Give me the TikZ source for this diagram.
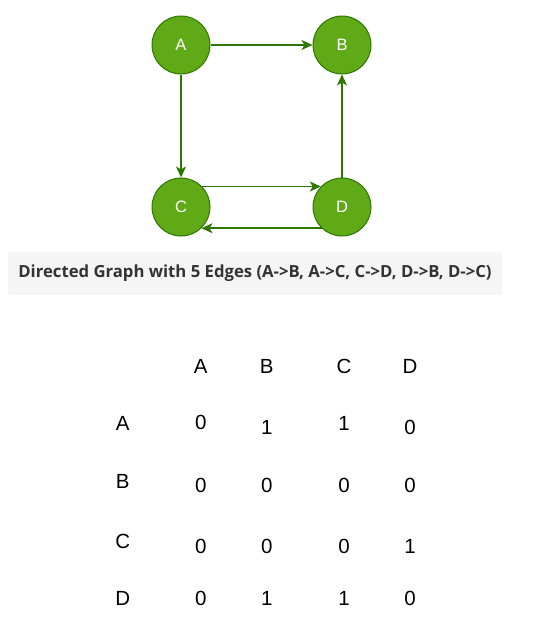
\documentclass[tikz,border=0pt]{standalone}
\usepackage{fontspec}
\setmainfont{Liberation Sans}
\newfontfamily\capfont{Open Sans}
\usetikzlibrary{arrows.meta}
\definecolor{vfill}{HTML}{60A917}
\definecolor{vline}{HTML}{2D7600}
\definecolor{capbg}{HTML}{F5F5F5}
\definecolor{captext}{HTML}{333333}
\tikzset{>={Stealth[length=11pt,width=10pt,inset=3pt]}}
\tikzset{v/.style={circle, draw=vline, fill=vfill, line width=1pt, minimum size=58pt, inner sep=0pt, text=white, font=\fontsize{16.5}{16.5}\selectfont}}
\tikzset{e/.style={draw=vline, line width=1.5pt}}
\tikzset{t/.style={inner sep=0pt, font=\fontsize{20.5}{20.5}\selectfont}}

\begin{document}
\begin{tikzpicture}[x=1pt, y=-1pt]
  \useasboundingbox (0,0) rectangle (535,632);
  % graph
  \node [v] (A) at (181,45) {A};
  \node [v] (B) at (342,45) {B}
    edge [e, <-] (A);
  \node [v] (C) at (181,207) {C}
    edge [e, <-] (A);
  \node [v] (D) at (342,207) {D}
    edge [e, ->] (B);
  \draw [e, ->] (C.44) -- (D.136);
  \draw [e, ->] (D.-134) -- (C.-46);
  % caption
  \node [fill=capbg, rounded corners=3pt, minimum width=494pt, minimum height=43pt, inner sep=0pt,
         text=captext, font=\capfont\bfseries\fontsize{16.7}{16.7}\selectfont] (cap) at (255,273.5)
    {Directed Graph with 5 Edges (A->B, A->C, C->D, D->B, D->C)};
  % matrix
  \foreach \n/\x in {A/200.7, B/266.7, C/344, D/410}
    \node [t] (h\n) at (\x,366) {\n};
  \foreach \n/\y in {A/423.3, B/481.7, C/541.7, D/598.3}
    \node [t] (r\n) at (122.7,\y) {\n};
  \node [t] (mAA) at (200.7,422.7) {0};
  \node [t] (mAB) at (266.7,427.3) {1};
  \node [t] (mAC) at (344,423.3) {1};
  \node [t] (mAD) at (410,427.3) {0};
  \foreach \n/\x/\v in {A/200.7/0, B/266.7/0, C/344/0, D/410/0}
    \node [t] (mB\n) at (\x,485) {\v};
  \foreach \n/\x/\v in {A/200.7/0, B/266.7/0, C/344/0, D/410/1}
    \node [t] (mC\n) at (\x,546.7) {\v};
  \foreach \n/\x/\v in {A/200.7/0, B/266.7/1, C/344/1, D/410/0}
    \node [t] (mD\n) at (\x,598.3) {\v};
\end{tikzpicture}
\end{document}
